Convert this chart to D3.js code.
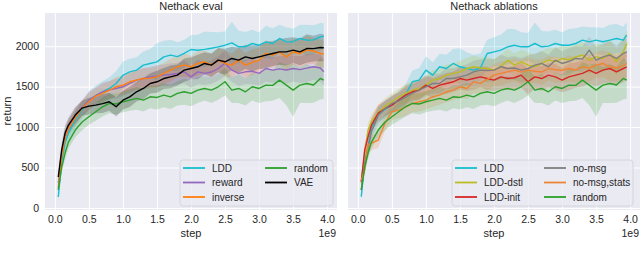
<!DOCTYPE html>
<html>
<head>
<meta charset="utf-8">
<script src="https://cdn.jsdelivr.net/npm/d3@7"></script>
<style>
	body { margin: 0; background: #fff; }
	text { font-family: "Liberation Sans", Arial, sans-serif; fill: #262626; }
</style>
</head>
<body>
<svg id="chart" width="640" height="257"></svg>
<script>
// steps in units of 1e9
var steps = [0.05, 0.1, 0.15, 0.2, 0.3, 0.4, 0.5, 0.6, 0.7, 0.8, 0.9, 1.0, 1.1, 1.2, 1.3, 1.4, 1.5, 1.6, 1.7, 1.8, 1.9,
	2.0, 2.1, 2.2, 2.3, 2.4, 2.5, 2.6, 2.7, 2.8, 2.9, 3.0, 3.1, 3.2, 3.3, 3.4, 3.5, 3.6, 3.7, 3.8, 3.9, 3.95];

var xTicks = [0, 0.5, 1.0, 1.5, 2.0, 2.5, 3.0, 3.5, 4.0];
var yTicks = [0, 500, 1000, 1500, 2000];

// left panel: Nethack eval
var evalLDD = [136, 568, 802, 926, 1086, 1210, 1333, 1390, 1436, 1477, 1539, 1640, 1683, 1704, 1765, 1786, 1806, 1868, 1889, 1870, 1910,
	1959, 1950, 1960, 1975, 1992, 2012, 2041, 1992, 1995, 2033, 2012, 2053, 2033, 2095, 2053, 2055, 2095, 2074, 2078, 2115, 2123];
var evalReward = [309, 640, 880, 1000, 1125, 1240, 1333, 1390, 1436, 1460, 1477, 1498, 1540, 1580, 1600, 1621, 1630, 1642, 1650, 1663, 1683,
	1621, 1683, 1663, 1680, 1724, 1790, 1704, 1663, 1683, 1690, 1663, 1724, 1704, 1720, 1705, 1724, 1710, 1728, 1745, 1730, 1683];
var evalInverse = [250, 630, 864, 988, 1111, 1230, 1313, 1383, 1416, 1457, 1498, 1519, 1560, 1580, 1600, 1605, 1621, 1663, 1704, 1745, 1765,
	1745, 1786, 1807, 1765, 1827, 1786, 1765, 1827, 1765, 1800, 1827, 1910, 1889, 1930, 1868, 1930, 1910, 1951, 1940, 1910, 1905];
var evalRandom = [222, 506, 679, 815, 963, 1062, 1128, 1189, 1251, 1292, 1285, 1313, 1333, 1354, 1333, 1374, 1366, 1395, 1374, 1416, 1436,
	1416, 1457, 1477, 1457, 1498, 1560, 1457, 1477, 1436, 1498, 1477, 1519, 1515, 1580, 1519, 1457, 1519, 1539, 1520, 1601, 1580];
var evalVAE = [383, 716, 926, 1025, 1148, 1235, 1259, 1272, 1290, 1313, 1251, 1333, 1374, 1436, 1477, 1539, 1560, 1600, 1621, 1642, 1704,
	1724, 1745, 1786, 1765, 1827, 1807, 1848, 1827, 1868, 1848, 1868, 1889, 1910, 1930, 1930, 1951, 1930, 1971, 1970, 1983, 1980];

// right panel: Nethack ablations
var ablLDD = [140, 556, 757, 988, 1150, 1220, 1272, 1333, 1395, 1560, 1580, 1704, 1642, 1745, 1724, 1786, 1745, 1724, 1704, 1730, 1909,
	1930, 1951, 1992, 2012, 1992, 1992, 2033, 1992, 2000, 2033, 2012, 2012, 2033, 2074, 2053, 2074, 2055, 2074, 2095, 2074, 2136];
var ablDstl = [309, 654, 963, 1066, 1180, 1260, 1313, 1374, 1416, 1457, 1477, 1519, 1580, 1600, 1642, 1663, 1683, 1724, 1745, 1730, 1724,
	1704, 1745, 1827, 1765, 1807, 1765, 1745, 1786, 1827, 1810, 1848, 1830, 1868, 1889, 1827, 1868, 1850, 1909, 1807, 1930, 2033];
var ablInit = [325, 716, 880, 1025, 1172, 1230, 1272, 1333, 1395, 1436, 1457, 1519, 1477, 1519, 1539, 1560, 1600, 1580, 1600, 1621, 1600,
	1580, 1621, 1600, 1610, 1642, 1560, 1621, 1600, 1642, 1620, 1580, 1621, 1642, 1663, 1704, 1663, 1704, 1724, 1683, 1724, 1745];
var ablNoMsg = [222, 556, 740, 942, 1150, 1230, 1292, 1320, 1374, 1416, 1457, 1498, 1539, 1539, 1600, 1600, 1621, 1642, 1683, 1704, 1700,
	1704, 1745, 1724, 1730, 1704, 1724, 1765, 1786, 1745, 1827, 1786, 1810, 1848, 1840, 1951, 1827, 1868, 1889, 1848, 1909, 1930];
var ablNoMsgStats = [346, 469, 780, 802, 840, 1049, 1189, 1210, 1251, 1292, 1313, 1333, 1374, 1395, 1436, 1457, 1498, 1477, 1560, 1540, 1590,
	1642, 1663, 1683, 1704, 1680, 1704, 1690, 1680, 1724, 1710, 1700, 1724, 1705, 1745, 1730, 1765, 1786, 1745, 1730, 1760, 1786];
var ablRandom = evalRandom;

// half-widths of the shaded bands
var spreadLDD = [60, 80, 90, 90, 100, 110, 110, 120, 130, 140, 150, 170, 160, 160, 170, 180, 230, 200, 190, 180, 170,
	180, 190, 220, 200, 180, 170, 260, 200, 180, 170, 160, 200, 190, 170, 180, 160, 170, 190, 180, 170, 160];
var spreadRandom = [50, 70, 80, 80, 90, 100, 100, 110, 120, 120, 130, 130, 130, 140, 140, 140, 150, 150, 150, 150, 160,
	160, 160, 150, 160, 160, 170, 160, 180, 170, 170, 180, 200, 190, 220, 250, 330, 220, 240, 220, 260, 230];
var spreadMid = [60, 80, 95, 90, 100, 95, 105, 100, 115, 110, 120, 115, 125, 120, 130, 125, 135, 130, 140, 130, 145,
	135, 150, 140, 145, 150, 160, 145, 155, 150, 160, 150, 165, 155, 160, 170, 160, 165, 175, 160, 170, 165];

var colors = {
	cyan: "#17becf",
	purple: "#9467bd",
	orange: "#ff7f0e",
	green: "#2ca02c",
	black: "#000000",
	olive: "#bcbd22",
	red: "#d62728",
	gray: "#7f7f7f",
	orange2: "#ee8535",
	bg: "#eaeaf2"
};

var panels = [
	{
		title: "Nethack eval", left: 45, right: 337, yLabels: true,
		series: [
			{ name: "LDD", values: evalLDD, spread: spreadLDD, color: colors.cyan },
			{ name: "reward", values: evalReward, spread: spreadMid, color: colors.purple },
			{ name: "inverse", values: evalInverse, spread: spreadMid, color: colors.orange },
			{ name: "random", values: evalRandom, spread: spreadRandom, color: colors.green },
			{ name: "VAE", values: evalVAE, spread: spreadMid, color: colors.black }
		],
		legend: { x: 180, w: 153, col2: 82 }
	},
	{
		title: "Nethack ablations", left: 348, right: 640, yLabels: false,
		series: [
			{ name: "LDD", values: ablLDD, spread: spreadLDD, color: colors.cyan },
			{ name: "LDD-dstl", values: ablDstl, spread: spreadMid, color: colors.olive },
			{ name: "LDD-init", values: ablInit, spread: spreadMid, color: colors.red },
			{ name: "no-msg", values: ablNoMsg, spread: spreadMid, color: colors.gray },
			{ name: "no-msg,stats", values: ablNoMsgStats, spread: spreadMid, color: colors.orange2 },
			{ name: "random", values: ablRandom, spread: spreadRandom, color: colors.green }
		],
		legend: { x: 452, w: 181, col2: 89 }
	}
];

var plotTop = 13, plotBottom = 210;
var svg = d3.select("#chart");

var y = d3.scaleLinear().domain([-25, 2410]).range([plotBottom, plotTop]);

panels.forEach(function(p) {
	var x = d3.scaleLinear().domain([-0.145, 4.145]).range([p.left, p.right]);
	var g = svg.append("g");

	g.append("rect")
		.attr("x", p.left).attr("y", plotTop)
		.attr("width", p.right - p.left).attr("height", plotBottom - plotTop)
		.attr("fill", colors.bg);

	// grid, seaborn darkgrid style (no tick marks)
	var xAxis = g.append("g")
		.attr("transform", "translate(0," + plotBottom + ")")
		.call(d3.axisBottom(x).tickValues(xTicks).tickFormat(d3.format(".1f"))
			.tickSize(-(plotBottom - plotTop)).tickPadding(6));
	xAxis.select(".domain").remove();
	xAxis.selectAll(".tick line").attr("stroke", "#fff").attr("stroke-width", 1);
	xAxis.selectAll(".tick text")
		.attr("font-size", "10.5px")
		.attr("fill", "#262626");
	xAxis.attr("font-family", null).attr("font-size", null);

	var yAxis = g.append("g")
		.attr("transform", "translate(" + p.left + ",0)")
		.call(d3.axisLeft(y).tickValues(yTicks).tickFormat(d3.format("d"))
			.tickSize(-(p.right - p.left)).tickPadding(6));
	yAxis.select(".domain").remove();
	yAxis.selectAll(".tick line").attr("stroke", "#fff").attr("stroke-width", 1);
	yAxis.selectAll(".tick text")
		.attr("font-size", "10.5px")
		.attr("fill", "#262626")
		.style("display", p.yLabels ? null : "none");
	yAxis.attr("font-family", null).attr("font-size", null);

	var clip = "clip" + p.left;
	g.append("clipPath").attr("id", clip)
		.append("rect")
		.attr("x", p.left).attr("y", plotTop)
		.attr("width", p.right - p.left).attr("height", plotBottom - plotTop);

	var plot = g.append("g").attr("clip-path", "url(#" + clip + ")");

	var area = function(s) {
		return d3.area()
			.x(function(d, i) { return x(steps[i]); })
			.y0(function(d, i) { return y(d - s.spread[i]); })
			.y1(function(d, i) { return y(d + s.spread[i]); });
	};
	var line = d3.line()
		.x(function(d, i) { return x(steps[i]); })
		.y(function(d) { return y(d); });

	p.series.forEach(function(s) {
		plot.append("path")
			.attr("d", area(s)(s.values))
			.attr("fill", s.color)
			.attr("fill-opacity", 0.2)
			.attr("stroke", "none");
	});
	p.series.forEach(function(s) {
		plot.append("path")
			.attr("d", line(s.values))
			.attr("fill", "none")
			.attr("stroke", s.color)
			.attr("stroke-width", 1.4)
			.attr("stroke-linejoin", "round");
	});

	// titles and labels
	g.append("text")
		.attr("x", (p.left + p.right) / 2).attr("y", 10)
		.attr("text-anchor", "middle")
		.attr("font-size", "11px")
		.text(p.title);
	g.append("text")
		.attr("x", (p.left + p.right) / 2).attr("y", 237)
		.attr("text-anchor", "middle")
		.attr("font-size", "11px")
		.text("step");
	g.append("text")
		.attr("x", p.right - 1).attr("y", 237)
		.attr("text-anchor", "end")
		.attr("font-size", "10.5px")
		.text("1e9");

	// legend, two columns, three rows
	var lg = g.append("g");
	lg.append("rect")
		.attr("x", p.legend.x).attr("y", 160)
		.attr("width", p.legend.w).attr("height", 46)
		.attr("rx", 3)
		.attr("fill", colors.bg).attr("fill-opacity", 0.8)
		.attr("stroke", "#d0d0d6").attr("stroke-width", 0.8);

	p.series.forEach(function(s, i) {
		var col = Math.floor(i / 3), row = i % 3;
		var lx = p.legend.x + 3 + col * p.legend.col2;
		var ly = 168 + row * 14.5;
		lg.append("line")
			.attr("x1", lx).attr("x2", lx + 22)
			.attr("y1", ly).attr("y2", ly)
			.attr("stroke", s.color).attr("stroke-width", 1.8);
		lg.append("text")
			.attr("x", lx + 29).attr("y", ly + 3.6)
			.attr("font-size", "10px")
			.text(s.name);
	});
});

svg.append("text")
	.attr("transform", "translate(11,111) rotate(-90)")
	.attr("text-anchor", "middle")
	.attr("font-size", "11px")
	.text("return");
</script>
</body>
</html>
